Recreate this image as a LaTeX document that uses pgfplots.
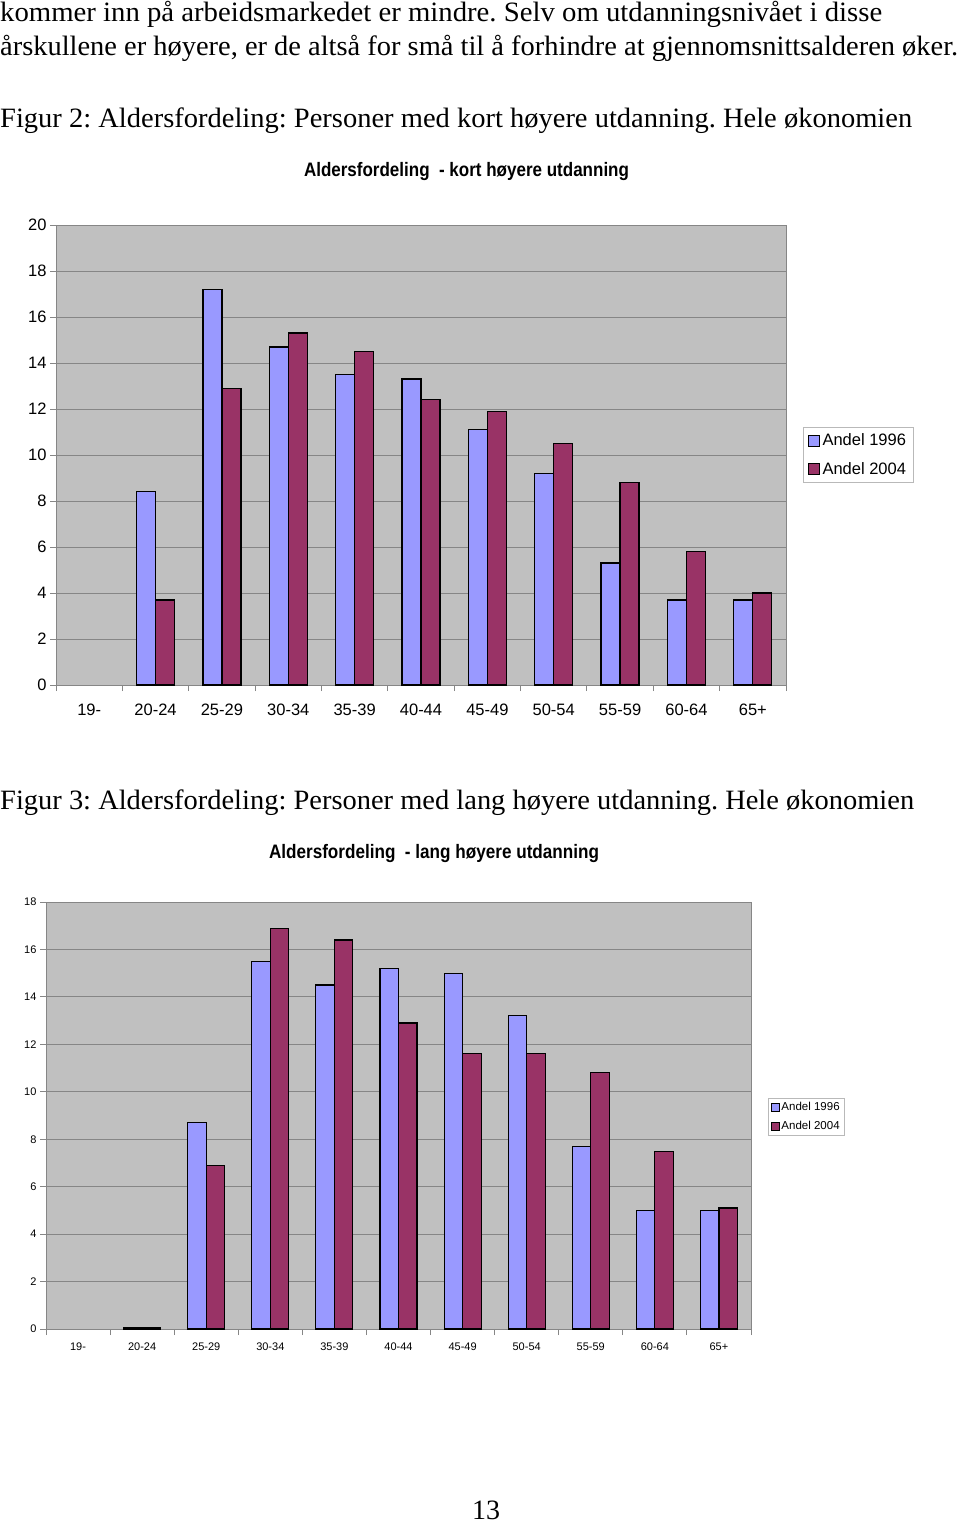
\documentclass[border=0pt]{standalone}
\usepackage{fontspec}
\setmainfont{Liberation Sans}
\newfontfamily\bodyfont{Liberation Serif}
\usepackage{pgfplots}
\pgfplotsset{compat=1.18}
\frenchspacing

\definecolor{c96}{HTML}{9999FF}
\definecolor{c04}{HTML}{993366}
\definecolor{plotbg}{HTML}{C0C0C0}
\definecolor{gridc}{HTML}{868686}

% stretch a line horizontally to a given width (in pt)
\newlength\tw
\newcommand\fitw[2]{\settowidth\tw{#2}\pgfmathsetmacro\sx{#1/\tw}\scalebox{\sx}[1]{#2}}

\pgfplotstableread{
cat a96 a04
1 8.4 3.7
2 17.2 12.9
3 14.7 15.3
4 13.5 14.5
5 13.3 12.4
6 11.1 11.9
7 9.2 10.5
8 5.3 8.8
9 3.7 5.8
10 3.7 4.0
}\kort

\pgfplotstableread{
cat a96 a04
1 0.05 0.05
2 8.7 6.9
3 15.5 16.9
4 14.5 16.4
5 15.2 12.9
6 15.0 11.6
7 13.2 11.6
8 7.7 10.8
9 5.0 7.5
10 5.0 5.1
}\lang

\pgfplotsset{
  excel/.style={
    scale only axis,
    xmin=-0.5, xmax=10.5, ymin=0,
    enlargelimits=false,
    axis background/.style={fill=plotbg},
    ybar=0pt,
    xtick={0,...,10},
    xticklabels={19-,20-24,25-29,30-34,35-39,40-44,45-49,50-54,55-59,60-64,65+},
    minor xtick={-0.5,0.5,...,10.5},
    tick pos=left,
    tick align=outside,
    major tick length=6pt, minor tick length=6pt,
    major x tick style={draw=none},
    tick style={gridc, line width=1pt},
    ymajorgrids,
    grid style={gridc, line width=1pt},
    axis line style={gridc, line width=1pt},
    /pgf/number format/assume math mode=true,
    legend cell align=left,
  },
  sq/.style={legend image code/.code={
    \draw[##1,draw=black,line width=0.8pt] (0pt,-#1) rectangle (2*#1,#1);}},
}

\begin{document}
\begin{tikzpicture}
\path[use as bounding box] (0,0) rectangle (960pt,-1524pt);

\begin{scope}[every node/.style={inner sep=0pt, anchor=base west,
    font=\bodyfont\fontsize{28}{30}\selectfont}]
\node at (0pt,-21pt) {\fitw{882}{kommer inn på arbeidsmarkedet er mindre. Selv om utdanningsnivået i disse}};
\node at (0pt,-55pt) {\fitw{958}{årskullene er høyere, er de altså for små til å forhindre at gjennomsnittsalderen øker.}};
\node at (0pt,-127pt) {\fitw{912}{Figur 2: Aldersfordeling: Personer med kort høyere utdanning. Hele økonomien}};
\node at (0pt,-809pt) {\fitw{914}{Figur 3: Aldersfordeling: Personer med lang høyere utdanning. Hele økonomien}};
\node[anchor=base] at (486pt,-1519pt) {13};
\end{scope}

\node[inner sep=0pt, anchor=base, font=\bfseries\fontsize{19.5}{22}\selectfont]
  at (466.5pt,-176pt) {\fitw{325}{Aldersfordeling \ - kort høyere utdanning}};
\node[inner sep=0pt, anchor=base, font=\bfseries\fontsize{19.5}{22}\selectfont]
  at (434pt,-858pt) {\fitw{330}{Aldersfordeling \ - lang høyere utdanning}};

% Figur 2
\begin{axis}[excel,
  at={(56pt,-685pt)}, anchor=south west,
  width=730pt, height=460pt,
  ymax=20, ytick={0,2,...,20},
  bar width=19pt,
  tick label style={font=\fontsize{16.5}{18}\selectfont},
  xticklabel style={yshift=-9pt},
  legend style={at={(axis description cs:1.0233,0.5609)}, anchor=north west,
    draw=gray!55, fill=white, font=\fontsize{16.5}{18}\selectfont,
    inner xsep=5pt, inner ysep=4pt, row sep=10pt,
    nodes={inner sep=2.5pt}},
]
\addplot[fill=c96, draw=black, line width=1.3pt, sq=5.5pt] table[x=cat,y=a96]{\kort};
\addplot[fill=c04, draw=black, line width=1.3pt, sq=5.5pt] table[x=cat,y=a04]{\kort};
\legend{Andel 1996,Andel 2004}
\end{axis}

% Figur 3
\begin{axis}[excel,
  at={(46pt,-1329pt)}, anchor=south west,
  width=705pt, height=427pt,
  ymax=18, ytick={0,2,...,18},
  bar width=18.5pt,
  tick label style={font=\fontsize{11}{13}\selectfont},
  xticklabel style={yshift=-4pt},
  legend style={at={(axis description cs:1.0241,0.541)}, anchor=north west,
    draw=gray!55, fill=white, font=\fontsize{11.5}{13}\selectfont,
    inner xsep=3pt, inner ysep=2.5pt, row sep=6pt,
    nodes={inner sep=1.5pt}},
]
\addplot[fill=c96, draw=black, line width=1.1pt, sq=4pt] table[x=cat,y=a96]{\lang};
\addplot[fill=c04, draw=black, line width=1.1pt, sq=4pt] table[x=cat,y=a04]{\lang};
\legend{Andel 1996,Andel 2004}
\end{axis}
\end{tikzpicture}
\end{document}
